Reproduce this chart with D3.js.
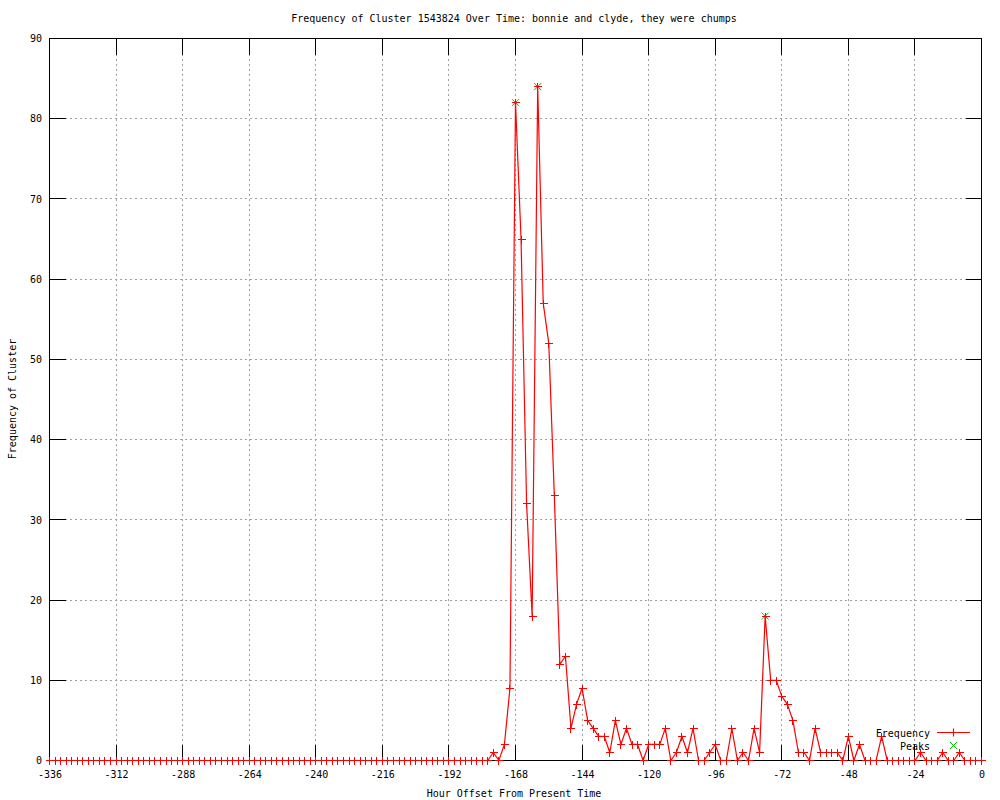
<!DOCTYPE html>
<html>
<head>
<meta charset="utf-8">
<script src="https://cdn.jsdelivr.net/npm/d3@7"></script>
<style>
  html, body { margin: 0; padding: 0; background: #fff; }
  svg { display: block; }
  text { font-family: "DejaVu Sans Mono", "Liberation Mono", monospace; font-size: 10px; fill: #000; }
</style>
</head>
<body>
<svg id="chart" width="1000" height="800"></svg>
<script>
// ---- data ----
const title = "Frequency of Cluster 1543824 Over Time: bonnie and clyde, they were chumps";
const xTitle = "Hour Offset From Present Time";
const yTitle = "Frequency of Cluster";
const seriesNames = ["Frequency", "Peaks"];

// hours from -336 to 0, every 2 hours
const hours = d3.range(-336, 1, 2);
const frequency = [
  0,0,0,0,0,0,0,0,0,0, 0,0,0,0,0,0,0,0,0,0,
  0,0,0,0,0,0,0,0,0,0, 0,0,0,0,0,0,0,0,0,0,
  0,0,0,0,0,0,0,0,0,0, 0,0,0,0,0,0,0,0,0,0,
  0,0,0,0,0,0,0,0,0,0, 0,0,0,0,0,0,0,0,0,0,
  1,0,2,9,82,
  65,32,18,84,57,52,33,12,13,
  4,7,9,5,4,3,3,1,
  5,2,4,2,2,0,2,2,2,4,
  0,1,3,1,4,0,0,1,2,0,
  0,4,0,1,0,4,1,18,
  10,10,8,7,5,1,1,0,
  4,1,1,1,1,0,
  3,0,2,0,0,0,3,
  0,0,0,0,0,0,
  1,0,0,0,1,
  0,0,1,
  0,0,0,0
];
const peakHours = [-168, -160, -78];
const peakValues = [82, 84, 18];

const xTicks = [-336, -312, -288, -264, -240, -216, -192, -168, -144, -120, -96, -72, -48, -24, 0];
const yTicks = [0, 10, 20, 30, 40, 50, 60, 70, 80, 90];

// ---- layout ----
const L = 49.5, R = 981.5, T = 38.5, B = 760.5;
const svg = d3.select("#chart");
const x = d3.scaleLinear().domain([-336, 0]).range([L, R]);
const y = d3.scaleLinear().domain([0, 90]).range([B, T]);
const px = v => Math.round(x(v) - 0.5) + 0.5;
const py = v => Math.round(y(v) - 0.5) + 0.5;

const data = hours.map((h, i) => ({ h, v: frequency[i] }));
const peaks = peakHours.map((h, i) => ({ h, v: peakValues[i] }));

// grid
const grid = svg.append("g").attr("shape-rendering", "crispEdges")
  .attr("stroke", "#a0a0a0").attr("stroke-dasharray", "2,3");
grid.selectAll("line.gx").data(xTicks.slice(1, -1)).join("line")
  .attr("x1", px).attr("x2", px).attr("y1", T).attr("y2", B);
grid.selectAll("line.gy").data(yTicks.slice(1, -1)).join("line")
  .attr("y1", py).attr("y2", py).attr("x1", L).attr("x2", R);

// tick marks (inward, mirrored)
const tl = 16;
const ticks = svg.append("g").attr("shape-rendering", "crispEdges").attr("stroke", "#000").attr("stroke-width", 1);
ticks.selectAll("line.xb").data(xTicks).join("line")
  .attr("x1", px).attr("x2", px).attr("y1", B).attr("y2", B - tl);
ticks.selectAll("line.xt").data(xTicks).join("line")
  .attr("x1", px).attr("x2", px).attr("y1", T).attr("y2", T + tl);
ticks.selectAll("line.yl").data(yTicks).join("line")
  .attr("y1", py).attr("y2", py).attr("x1", L).attr("x2", L + tl);
ticks.selectAll("line.yr").data(yTicks).join("line")
  .attr("y1", py).attr("y2", py).attr("x1", R).attr("x2", R - tl);

// axis labels via d3 axes
const xb = d3.axisBottom(x).tickValues(xTicks).tickSize(0).tickPadding(10).tickFormat(d => String(d));
const yl = d3.axisLeft(y).tickValues(yTicks).tickSize(0).tickPadding(7.5).tickFormat(d => String(d));
function styleAxis(g) {
  g.select(".domain").remove();
  g.selectAll(".tick line").remove();
  g.selectAll("text").attr("fill", "#000");
  g.attr("font-family", null).attr("font-size", null);
}
svg.append("g").attr("transform", `translate(0,${B})`).call(xb).call(styleAxis);
svg.append("g").attr("transform", `translate(${L},0)`).call(yl).call(styleAxis);

// border
svg.append("rect").attr("x", L).attr("y", T).attr("width", R - L).attr("height", B - T)
  .attr("fill", "none").attr("stroke", "#000").attr("shape-rendering", "crispEdges");

// peaks markers (green x)
const xs = 3.5;
svg.append("g").attr("stroke", "#00c000").attr("stroke-width", 1)
  .selectAll("path").data(peaks).join("path")
  .attr("d", d => {
    const cx = x(d.h), cy = y(d.v);
    return `M${cx - xs},${cy - xs}L${cx + xs},${cy + xs}M${cx - xs},${cy + xs}L${cx + xs},${cy - xs}`;
  });

// frequency line
svg.append("path").datum(data)
  .attr("fill", "none").attr("stroke", "#ff0000").attr("stroke-width", 1.2)
  .attr("d", d3.line().x(d => x(d.h)).y(d => y(d.v)));

// frequency markers (+)
const ps = 4;
svg.append("g").attr("stroke", "#ff0000").attr("stroke-width", 1.2).attr("shape-rendering", "crispEdges")
  .selectAll("path").data(data).join("path")
  .attr("d", d => {
    const cx = px(d.h), cy = py(d.v);
    return `M${cx - ps},${cy}L${cx + ps},${cy}M${cx},${cy - ps}L${cx},${cy + ps}`;
  });

// titles
svg.append("text").attr("x", 514).attr("y", 22).attr("text-anchor", "middle").text(title);
svg.append("text").attr("x", 514).attr("y", 797).attr("text-anchor", "middle").text(xTitle);
svg.append("text").attr("transform", "translate(16,399) rotate(-90)").attr("text-anchor", "middle").text(yTitle);

// legend
const lg = svg.append("g");
lg.append("text").attr("x", 930).attr("y", 736.5).attr("text-anchor", "end").text(seriesNames[0]);
lg.append("text").attr("x", 930).attr("y", 749.5).attr("text-anchor", "end").text(seriesNames[1]);
lg.append("line").attr("x1", 937).attr("x2", 970).attr("y1", 732.5).attr("y2", 732.5)
  .attr("stroke", "#ff0000").attr("stroke-width", 1.2);
lg.append("path").attr("stroke", "#ff0000").attr("stroke-width", 1.2)
  .attr("d", `M${953.5 - ps},732.5L${953.5 + ps},732.5M953.5,${732.5 - ps}L953.5,${732.5 + ps}`);
lg.append("path").attr("stroke", "#00c000")
  .attr("d", `M${953.5 - xs},${745.5 - xs}L${953.5 + xs},${745.5 + xs}M${953.5 - xs},${745.5 + xs}L${953.5 + xs},${745.5 - xs}`);
</script>
</body>
</html>
